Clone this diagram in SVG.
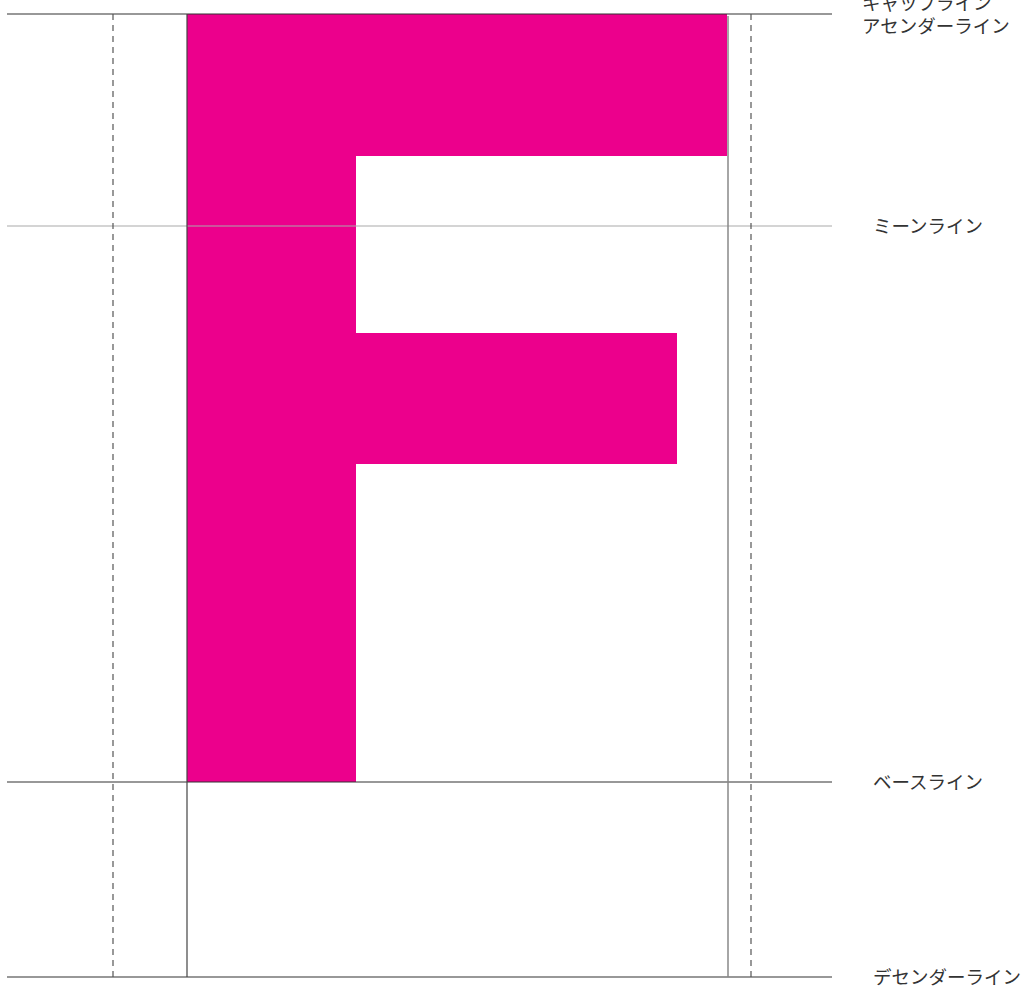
<svg xmlns="http://www.w3.org/2000/svg" width="1030" height="989" viewBox="0 0 1030 989">
<style>
.h{stroke:#333;stroke-width:1.2}
.hm{stroke:#aaa;stroke-width:1.2}
.v{stroke:#444;stroke-width:1.2}
.vg{stroke:#888;stroke-width:1.5}
.d{stroke:#555;stroke-width:1.2;stroke-dasharray:6 5}
.lbl{font-family:"Noto Sans CJK JP",sans-serif;font-size:18.5px;fill:#333}
</style>
<rect width="1030" height="989" fill="#fff"/>
<g id="glyph">
<path d="M187 14 H727 V156 H356 V333 H677 V464 H356 V782 H187 Z" fill="#ec008c"/>
</g>
<g id="connectors">
<line class="h" x1="7" y1="14" x2="832" y2="14"/>
<line class="hm" x1="7" y1="226" x2="832" y2="226"/>
<line class="h" x1="7" y1="782" x2="832" y2="782"/>
<line class="h" x1="7" y1="977" x2="832" y2="977"/>
<line class="d" x1="113" y1="14" x2="113" y2="977"/>
<line class="d" x1="751" y1="14" x2="751" y2="977"/>
<line class="v" x1="187" y1="14" x2="187" y2="977"/>
<line class="vg" x1="728" y1="16" x2="728" y2="977"/>
</g>
<g id="labels">
<text class="lbl" x="862" y="10">キャップライン</text>
<text class="lbl" x="862" y="33">アセンダーライン</text>
<text class="lbl" x="873" y="233">ミーンライン</text>
<text class="lbl" x="873" y="789">ベースライン</text>
<text class="lbl" x="873" y="984">デセンダーライン</text>
</g>
</svg>
